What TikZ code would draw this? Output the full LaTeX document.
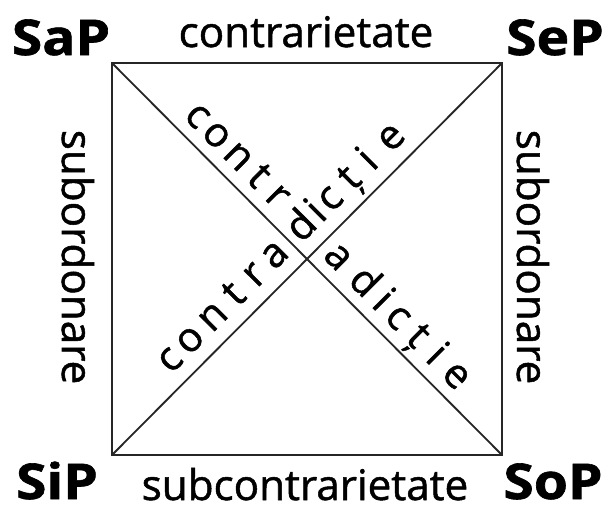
\documentclass[tikz,border=0pt]{standalone}
\usepackage{fontspec}
\setmainfont{Open Sans}
\newfontfamily\labelfont[FakeBold=1.2]{Open Sans}
\usepackage{tikz}

\begin{document}
\begin{tikzpicture}[x=0.025cm, y=-0.025cm,
    corner/.style={font=\fontsize{35}{36}\selectfont\labelfont\bfseries, anchor=base, inner sep=0pt, xscale=1.12},
    relation/.style={font=\fontsize{30}{32}\selectfont\labelfont, anchor=base, inner sep=0pt},
    letter/.style={font=\fontsize{29}{30}\selectfont\labelfont, anchor=base, inner sep=0pt, sloped}]

    \useasboundingbox (0,0) rectangle (611,509);

    \coordinate (TL) at (112,63);
    \coordinate (TR) at (502,63);
    \coordinate (BL) at (112,455);
    \coordinate (BR) at (502,455);

    \draw[line width=1.7pt, black!85] (TL) -- (TR) -- (BR) -- (BL) -- cycle;
    \draw[line width=1.3pt, black!85] (TL) -- (BR);
    \draw[line width=1.3pt, black!85] (BL) -- (TR);

    \node[corner] (SaP) at (61,55) {SaP};
    \node[corner] (SeP) at (555,55) {SeP};
    \node[corner] (SiP) at (57,499) {SiP};
    \node[corner] (SoP) at (553,499) {SoP};

    \node[relation] (top) at (306,47) {contrarietate};
    \node[relation] (bottom) at (305,500) {subcontrarietate};
    \node[relation, rotate=-90] (left) at (62,257) {subordonare};
    \node[relation, rotate=-90] (right) at (517,257) {subordonare};

    % contradictie, down the first diagonal
    \foreach \l/\p [count=\n] in {c/.177, o/.226, n/.281, t/.333, r/.382,
                                  a/.537, d/.603, i/.650, c/.691, ț/.741, i/.788, e/.840}
      \path ([shift={(8.5,-8.5)}]TL) -- ([shift={(8.5,-8.5)}]BR)
        node[letter, pos=\p] (down\n) {\l};

    % contradictie, up the second diagonal
    \foreach \l/\p [count=\n] in {c/.196, o/.247, n/.306, t/.362, r/.413, a/.464,
                                  d/.535, i/.573, c/.607, ț/.658, i/.705, e/.763}
      \path ([shift={(-10.3,-10.3)}]BL) -- ([shift={(-10.3,-10.3)}]TR)
        node[letter, pos=\p] (up\n) {\l};

\end{tikzpicture}
\end{document}
